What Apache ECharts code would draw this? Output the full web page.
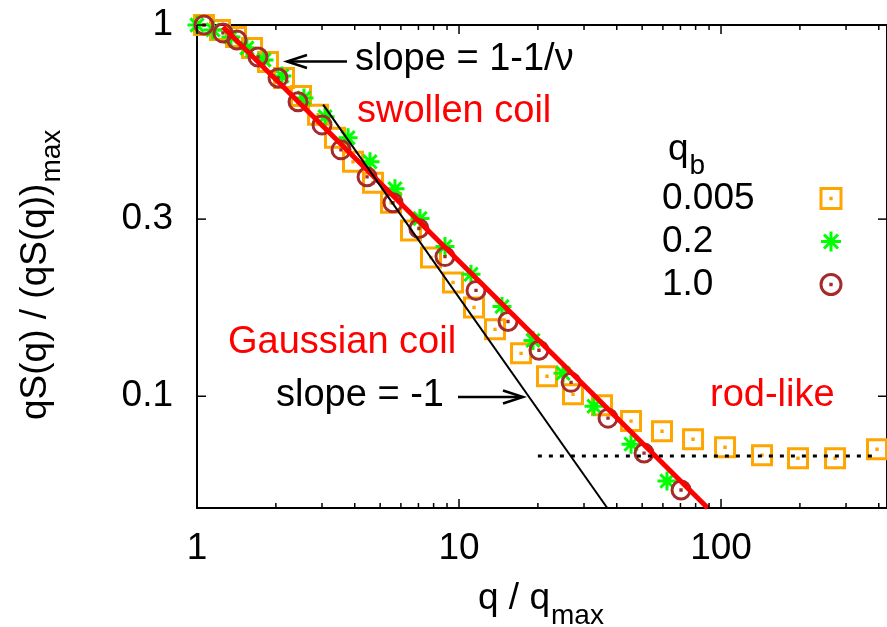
<!DOCTYPE html>
<html>
<head>
<meta charset="utf-8">
<script src="https://cdn.jsdelivr.net/npm/echarts@6/dist/echarts.min.js"></script>
<style>
  html, body { margin: 0; padding: 0; background: #fff; }
  #chart { width: 887px; height: 627px; }
</style>
</head>
<body>
<div id="chart"></div>
<script>
// Normalised qS(q) against q/q_max for three stiffness values q_b (log-log).
const qb0005X = [1.063, 1.224, 1.409, 1.622, 1.866, 2.148, 2.494, 2.897, 3.363, 3.939, 4.697, 5.502, 6.558, 7.818, 9.486, 11.41, 13.72, 17.25, 21.67, 27.23, 35.14, 45.35, 59.53, 78.2, 103.6, 143.4, 196.7, 272.4, 393.9];
const qb0005Y = [1.0, 0.970, 0.928, 0.867, 0.795, 0.720, 0.644, 0.573, 0.497, 0.428, 0.376, 0.332, 0.2795, 0.2364, 0.2025, 0.1734, 0.1514, 0.1305, 0.1132, 0.1012, 0.0946, 0.0857, 0.0805, 0.0766, 0.0729, 0.0694, 0.0681, 0.0681, 0.0720];

const qb02X = [1.0, 1.151, 1.348, 1.551, 1.802, 2.110, 2.561, 3.080, 3.771, 4.574, 5.697, 7.099, 8.84, 11.11, 14.59, 19.16, 24.95, 32.75, 45.35, 62.2];
const qb02Y = [1.0, 0.970, 0.928, 0.867, 0.805, 0.729, 0.636, 0.566, 0.497, 0.428, 0.362, 0.301, 0.253, 0.213, 0.1745, 0.1414, 0.1153, 0.0940, 0.0743, 0.0591];

const qb1X = [1.063, 1.256, 1.421, 1.709, 2.038, 2.43, 3.0, 3.545, 4.456, 5.598, 7.03, 8.84, 11.61, 15.38, 20.19, 26.77, 37.04, 50.84, 70.36];
const qb1Y = [1.0, 0.952, 0.911, 0.820, 0.720, 0.621, 0.538, 0.461, 0.390, 0.332, 0.283, 0.2378, 0.1928, 0.159, 0.133, 0.109, 0.0873, 0.0703, 0.0559];

// Guide lines: swollen-coil power law (slope 1-1/nu), Gaussian slope -1, rod-like plateau
const swollenLine = [[1.256, 0.988], [89, 0.05]];
const gaussLine = [[3.03, 0.61], [36.8, 0.05]];
const rodLine = [[20, 0.069], [400, 0.069]];

const legendNames = ['0.005', '0.2', '1.0'];

// Axis ranges and ticks
const X_MIN = 1, X_MAX = 430;
const Y_MIN = 0.05, Y_MAX = 1;
const xMajorTicks = [1, 10, 100];
const xMajorLabels = ['1', '10', '100'];
const xMinorTicks = [2, 3, 4, 5, 6, 7, 8, 9, 20, 30, 40, 50, 60, 70, 80, 90, 200, 300, 400];
const yMajorTicks = [0.1, 0.3, 1];
const yMajorLabels = ['0.1', '0.3', '1'];

const FAMILY = '"Liberation Sans", Arial, Helvetica, sans-serif';
const FS = 37;      // tick labels, legend, axis titles
const FS_NOTE = 38; // annotations inside the plot
const FS_SUB = 28;  // subscripts
const font = (size) => size + 'px ' + FAMILY;

// width of a string in the chart font, used to butt subscripts against their base text
const measureCtx = document.createElement('canvas').getContext('2d');
function textWidth(text, size) {
  measureCtx.font = font(size);
  return measureCtx.measureText(text).width;
}

const ORANGE = '#FFA500', GREEN = '#00FF00', BROWN = '#A52A2A';

// Marker shapes: open square / asterisk / open circle, with a centre dot
const SYM_SQUARE = 'path://M0,0H20V20H0Z M9.8,9.8H10.2V10.2H9.8Z';
const SYM_STAR = 'path://M10,0V20 M0,10H20 M3,3L17,17 M17,3L3,17';
const SYM_CIRCLE = 'path://M10,0A10,10,0,1,1,10,20A10,10,0,1,1,10,0Z M9.8,9.8H10.2V10.2H9.8Z';

const zip = (xs, ys) => xs.map((x, i) => [x, ys[i]]);

function scatter(name, xs, ys, symbol, size, color) {
  return {
    name, type: 'scatter', data: zip(xs, ys),
    symbol, symbolSize: size, clip: false, silent: true,
    itemStyle: { color: 'rgba(0,0,0,0)', borderColor: color, borderWidth: 3, opacity: 1 },
    emphasis: { disabled: true }
  };
}

function guide(data, color, width, type) {
  return {
    type: 'line', data, showSymbol: false, symbol: 'none', clip: true, silent: true,
    lineStyle: { color, width, type: type || 'solid', cap: 'butt' },
    emphasis: { disabled: true }
  };
}

// Tick marks on all four sides of the frame, plus tick labels
const xTickData = xMajorTicks.map((v, i) => [v, Y_MIN, 1, i]).concat(xMinorTicks.map(v => [v, Y_MIN, 0, -1]));
const yTickData = yMajorTicks.map((v, i) => [X_MIN, v, 1, i]);

const xTicksSeries = {
  type: 'custom', silent: true, data: xTickData, encode: { x: 0, y: 1 }, z: 10,
  renderItem(params, api) {
    const cs = params.coordSys;
    const px = api.coord([api.value(0), Y_MAX])[0];
    const major = api.value(2) === 1;
    const len = major ? 9 : 5;
    const bottom = cs.y + cs.height, top = cs.y;
    const st = { stroke: '#000', lineWidth: 1.5 };
    const children = [
      { type: 'line', shape: { x1: px, y1: bottom, x2: px, y2: bottom - len }, style: st },
      { type: 'line', shape: { x1: px, y1: top, x2: px, y2: top + len }, style: st }
    ];
    if (major) {
      children.push({
        type: 'text', x: px, y: bottom + 41,
        style: { text: xMajorLabels[api.value(3)], font: font(FS), fill: '#000', align: 'center', verticalAlign: 'middle', textAlign: 'center', textVerticalAlign: 'middle' }
      });
    }
    return { type: 'group', children };
  }
};

const yTicksSeries = {
  type: 'custom', silent: true, data: yTickData, encode: { x: 0, y: 1 }, z: 10,
  renderItem(params, api) {
    const cs = params.coordSys;
    const py = api.coord([X_MIN, api.value(1)])[1];
    const left = cs.x, right = cs.x + cs.width;
    const st = { stroke: '#000', lineWidth: 1.5 };
    return {
      type: 'group', children: [
        { type: 'line', shape: { x1: left, y1: py, x2: left + 9, y2: py }, style: st },
        { type: 'line', shape: { x1: right, y1: py, x2: right - 9, y2: py }, style: st },
        {
          type: 'text', x: left - 24, y: py,
          style: { text: yMajorLabels[api.value(3)], font: font(FS), fill: '#000', align: 'right', verticalAlign: 'middle', textAlign: 'right', textVerticalAlign: 'middle' }
        }
      ]
    };
  }
};

function txt(text, x, y, color, size, align) {
  return {
    type: 'text', x, y, silent: true,
    style: { text, font: font(size || FS), fill: color || '#000', align: align || 'left', verticalAlign: 'middle', textAlign: align || 'left', textVerticalAlign: 'middle' }
  };
}

// base text with a lowered subscript right after it; (x, y) is the base text's left/middle
function withSub(base, sub, x, y, drop) {
  const w = textWidth(base, FS);
  return [txt(base, x, y, '#000', FS), txt(sub, x + w + 1, y + drop, '#000', FS_SUB)];
}

function arrow(x1, y, x2) {
  // shaft from x1 to tip x2, open V head at the tip
  const dir = x2 > x1 ? 1 : -1;
  const st = { stroke: '#000', lineWidth: 2.5, fill: null };
  return {
    type: 'group', silent: true, children: [
      { type: 'line', shape: { x1, y1: y, x2: x2 - dir * 2, y2: y }, style: st },
      { type: 'polyline', shape: { points: [[x2 - dir * 20, y - 6.5], [x2, y], [x2 - dir * 20, y + 6.5]] }, style: st }
    ]
  };
}

const chart = echarts.init(document.getElementById('chart'), null, { renderer: 'canvas' });

chart.setOption({
  animation: false,
  backgroundColor: '#fff',
  grid: {
    left: 197, top: 25, right: 0, bottom: 119,
    show: true, borderColor: '#000', borderWidth: 2, backgroundColor: 'transparent',
    containLabel: false, outerBoundsMode: 'none'
  },
  xAxis: {
    type: 'log', logBase: 10, min: X_MIN, max: X_MAX,
    axisLine: { show: false }, axisTick: { show: false }, axisLabel: { show: false },
    splitLine: { show: false }, minorTick: { show: false }, minorSplitLine: { show: false }
  },
  yAxis: {
    type: 'log', logBase: 10, min: Y_MIN, max: Y_MAX,
    axisLine: { show: false }, axisTick: { show: false }, axisLabel: { show: false },
    splitLine: { show: false }, minorTick: { show: false }, minorSplitLine: { show: false }
  },
  legend: {
    show: true, orient: 'vertical', left: 657, top: 175,
    align: 'right', itemWidth: 20, itemHeight: 20, itemGap: 6,
    selectedMode: false, data: legendNames,
    itemStyle: { borderWidth: 3 },
    formatter: (n) => '{n|' + n + '}',
    textStyle: {
      rich: { n: { width: 154, align: 'left', fontSize: FS, fontFamily: FAMILY, color: '#000', lineHeight: 40 } }
    }
  },
  series: [
    scatter(legendNames[0], qb0005X, qb0005Y, SYM_SQUARE, 19, ORANGE),
    scatter(legendNames[1], qb02X, qb02Y, SYM_STAR, 19, GREEN),
    scatter(legendNames[2], qb1X, qb1Y, SYM_CIRCLE, 18, BROWN),
    guide(swollenLine, '#FF0000', 5),
    guide(gaussLine, '#000', 2),
    guide(rodLine, '#000', 3, [4, 7]),
    xTicksSeries,
    yTicksSeries
  ],
  graphic: [
    txt('slope = 1-1/\u03BD', 355, 60, '#000', FS_NOTE),
    arrow(347, 61.5, 287),
    txt('swollen coil', 357, 112, '#FF0000', FS_NOTE),
    txt('Gaussian coil', 228, 343, '#FF0000', FS_NOTE),
    txt('slope = -1', 276, 396, '#000', FS_NOTE),
    arrow(458, 397, 523),
    txt('rod-like', 710, 396, '#FF0000', FS_NOTE),
    // legend heading q_b
    ...withSub('q', 'b', 668, 150, 16),
    // x-axis title q / q_max
    ...withSub('q / q', 'max', 478, 599, 17),
    // y-axis title qS(q) / (qS(q))_max, reading bottom to top
    {
      type: 'group', x: 49, y: 420, rotation: Math.PI / 2, silent: true,
      children: withSub('qS(q) / (qS(q))', 'max', 0, -13, 16)
    }
  ]
});
</script>
</body>
</html>
